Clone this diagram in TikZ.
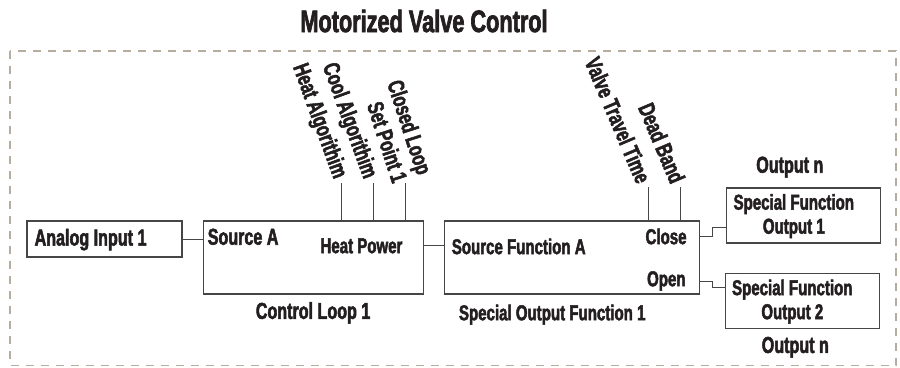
\documentclass[tikz,border=0pt]{standalone}
\usepackage{fontspec}
\setmainfont{Liberation Sans}[FakeStretch=0.7, BoldFeatures={FakeBold=2.2}]
\usepackage{tikz}
\usetikzlibrary{positioning, calc}
\definecolor{framegray}{RGB}{182,173,160}
\definecolor{inkgray}{RGB}{70,70,70}
\definecolor{textdark}{RGB}{35,31,32}

\begin{document}
\begin{tikzpicture}[
    x=1pt, y=1pt,
    box/.style={rectangle, draw=inkgray, line width=1.1pt, inner sep=0pt},
    big/.style={font=\bfseries\fontsize{23}{26}\selectfont, text=textdark, inner sep=0pt},
    small/.style={font=\bfseries\fontsize{21.5}{24}\selectfont, text=textdark, inner sep=0pt},
    tag/.style={big, rotate=#1, anchor=east, align=right, inner xsep=6pt, inner ysep=1pt},
    tag/.default=-70,
    wire/.style={inkgray, line width=0.9pt},
    node distance=20pt
  ]
  \useasboundingbox (0,0) rectangle (900,367);
  \draw[framegray, line width=1.8pt, dash pattern=on 8pt off 7pt] (10,316) rectangle (896,1.5);
  \node[font=\bfseries\fontsize{31}{36}\selectfont, text=textdark] (title) at (424,346) {Motorized Valve Control};

  \node[box, minimum width=155pt, minimum height=36pt] (ain) at (104.5,128) {};
  \node[big, anchor=base west] (ainlbl) at ([xshift=8pt,yshift=12pt]ain.south west) {Analog Input 1};

  \node[box, minimum width=220pt, minimum height=73pt, right=20pt of ain.north east, anchor=north west] (loop) {};
  \node[big, anchor=base west] (srca) at ([xshift=5pt,yshift=-24.3pt]loop.north west) {Source A};
  \node[small, anchor=base east] (heat) at ([xshift=-21pt,yshift=-32.7pt]loop.north east) {Heat Power};
  \node[big, anchor=base] (looplbl) at ([yshift=-24.3pt]loop.south) {Control Loop 1};

  \node[box, minimum width=255pt, minimum height=73pt, right=20pt of loop.north east, anchor=north west] (sof) {};
  \node[small, anchor=base west] (srcf) at ([xshift=8pt,yshift=-33.7pt]sof.north west) {Source Function A};
  \node[small, anchor=base east] (close) at ([xshift=-13pt,yshift=-23.7pt]sof.north east) {Close};
  \node[small, anchor=base east] (open) at ([xshift=-14pt,yshift=8.3pt]sof.south east) {Open};
  \node[small, anchor=base] (soflbl) at ([xshift=-19.5pt,yshift=-25.7pt]sof.south) {Special Output Function 1};

  \node[box, minimum width=154pt, minimum height=55pt, above right=33pt and 26pt of sof.north east, anchor=north west] (sfo1) {};
  \node[small, align=center] (sfo1lbl) at ([xshift=-9.5pt,yshift=-0.6pt]sfo1.center) {Special Function\\Output 1};
  \node[big, anchor=base] (outn1) at ([xshift=-13.5pt,yshift=14.7pt]sfo1.north) {Output n};

  \node[box, minimum width=154pt, minimum height=55pt, above right=22pt and 25pt of sof.south east, anchor=north west] (sfo2) {};
  \node[small, align=center] (sfo2lbl) at ([xshift=-10pt,yshift=-1pt]sfo2.center) {Special Function\\Output 2};
  \node[big, anchor=base] (outn2) at ([xshift=-7pt,yshift=-24.3pt]sfo2.south) {Output n};

  % parameter inputs
  \foreach \dx [count=\i] in {139,171,203}
    \coordinate (lt\i) at ([xshift=\dx pt, yshift=37pt]loop.north west);
  \foreach \dx [count=\i] in {205,237}
    \coordinate (st\i) at ([xshift=\dx pt, yshift=33pt]sof.north west);
  \node[tag] (heatalg) at (lt1) {Heat Algorithim};
  \node[tag] (coolalg) at ([xshift=-2pt]lt2) {Cool Algorithim};
  \node[tag=-72] (setpt) at ([xshift=9pt]lt3) {Closed Loop\\Set Point 1};
  \node[tag=-67] (travel) at ([xshift=-2pt]st1) {Valve Travel Time};
  \node[tag=-67] (deadband) at (st2) {Dead Band};
  \foreach \i in {1,2,3}
    \draw[wire] (lt\i) -- (lt\i |- loop.north);
  \foreach \i in {1,2}
    \draw[wire] (st\i) -- (st\i |- sof.north);

  \draw[wire] (ain.east) -- (ain.east -| loop.west);
  \draw[wire] (loop.east |- heat.east) -- (sof.west |- heat.east);
  \draw[wire] (sof.east |- close.east) -- ++(13,0) |- ([yshift=16pt]sfo1.south west);
  \draw[wire] (sof.east |- open.east) -- ++(13,0) |- ([yshift=-15pt]sfo2.north west);
\end{tikzpicture}
\end{document}
